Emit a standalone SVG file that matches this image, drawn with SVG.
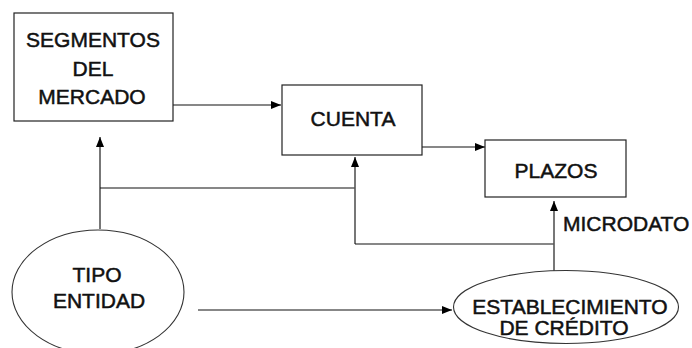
<svg xmlns="http://www.w3.org/2000/svg" width="692" height="348" viewBox="0 0 692 348">
  <style>
    .box { fill: #fff; stroke: #222; stroke-width: 1.2; }
    .oval { fill: #fff; stroke: #333; stroke-width: 1.1; }
    .lbl { font-family: "Liberation Sans", Arial, sans-serif; font-size: 21px; fill: #111; stroke: #111; stroke-width: 0.5; text-anchor: middle; }
    .h { fill: none; stroke: #111; stroke-width: 1.1; }
    .v { fill: none; stroke: #555; stroke-width: 1.6; }
  </style>
  <defs>
    <marker id="arrow" markerUnits="userSpaceOnUse" markerWidth="10" markerHeight="10" viewBox="0 0 10 10" refX="10" refY="5" orient="auto">
      <path d="M0,1 L10,5 L0,9 Z" fill="#000"/>
    </marker>
  </defs>
  <rect width="692" height="348" fill="#fff"/>

  <g id="connectors">
    <!-- SEGMENTOS DEL MERCADO -> CUENTA -->
    <line class="h" x1="173" y1="105" x2="281" y2="105" marker-end="url(#arrow)"/>
    <!-- CUENTA -> PLAZOS -->
    <line class="h" x1="422" y1="147" x2="485" y2="147" marker-end="url(#arrow)"/>
    <!-- TIPO ENTIDAD -> SEGMENTOS DEL MERCADO -->
    <line class="v" x1="100" y1="229" x2="100" y2="137" marker-end="url(#arrow)"/>
    <!-- branch to CUENTA -->
    <line class="h" x1="100" y1="188" x2="355" y2="188"/>
    <line class="v" x1="355" y1="244" x2="355" y2="157" marker-end="url(#arrow)"/>
    <line class="h" x1="355" y1="244" x2="554" y2="244"/>
    <!-- ESTABLECIMIENTO DE CRÉDITO -> PLAZOS -->
    <line class="v" x1="554" y1="271" x2="554" y2="201" marker-end="url(#arrow)"/>
    <!-- TIPO ENTIDAD -> ESTABLECIMIENTO DE CRÉDITO -->
    <line class="h" x1="198" y1="310" x2="452" y2="310" marker-end="url(#arrow)"/>
    <text class="lbl" x="563" y="231" style="text-anchor:start">MICRODATO</text>
  </g>

  <g id="segmentos">
    <rect class="box" x="14" y="13" width="159" height="108"/>
    <text class="lbl" x="93" y="47">SEGMENTOS</text>
    <text class="lbl" x="93" y="75.5">DEL</text>
    <text class="lbl" x="92" y="104">MERCADO</text>
  </g>

  <g id="cuenta">
    <rect class="box" x="282" y="85" width="140" height="70"/>
    <text class="lbl" x="353" y="126">CUENTA</text>
  </g>

  <g id="plazos">
    <rect class="box" x="485" y="140" width="141" height="57"/>
    <text class="lbl" x="556" y="178">PLAZOS</text>
  </g>

  <g id="tipo-entidad">
    <ellipse class="oval" cx="98" cy="292" rx="86" ry="62"/>
    <text class="lbl" x="97" y="282">TIPO</text>
    <text class="lbl" x="99" y="308">ENTIDAD</text>
  </g>

  <g id="establecimiento">
    <ellipse class="oval" cx="566" cy="307" rx="112.5" ry="36.5"/>
    <text class="lbl" x="570" y="314">ESTABLECIMIENTO</text>
    <text class="lbl" x="564" y="335">DE CRÉDITO</text>
  </g>
</svg>
